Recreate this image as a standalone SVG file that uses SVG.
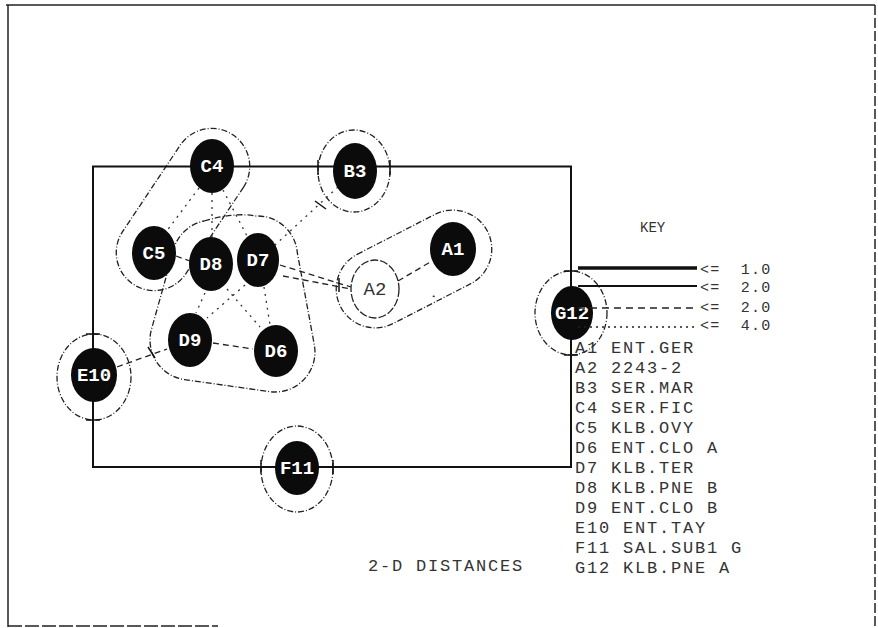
<svg xmlns="http://www.w3.org/2000/svg" width="878" height="628" viewBox="0 0 878 628">
<style>
.frame{fill:none;stroke:#222;stroke-width:1.5}
.ring{fill:none;stroke:#111;stroke-width:2}
.grp{fill:none;stroke:#222;stroke-width:1.3;stroke-dasharray:6 2 1 2}
.dark{fill:#0b0b0b}
.lbl{font-family:"Liberation Mono",monospace;font-weight:bold;font-size:19px;fill:#fff;text-anchor:middle}
.txt{font-family:"Liberation Mono",monospace;font-size:17px;letter-spacing:1.8px;fill:#333}
.key{font-family:"Liberation Mono",monospace;font-size:15px;letter-spacing:1.2px;fill:#333}
.dash{fill:none;stroke:#222;stroke-width:1.3;stroke-dasharray:6 4}
.dot{fill:none;stroke:#333;stroke-width:1.3;stroke-dasharray:2 5}
.tick{stroke:#111;stroke-width:1.5}
</style>
<rect width="878" height="628" fill="#fff"/>
<g id="frame">
<line class="frame" x1="6" y1="5" x2="875" y2="5"/>
<line class="frame" x1="8" y1="5" x2="8" y2="627"/>
<line class="frame" x1="875" y1="5" x2="875" y2="627" stroke-dasharray="10 3"/>
<line class="frame" x1="8" y1="626" x2="218" y2="626" stroke-dasharray="14 3"/>
</g>
<g id="groups">
<path class="grp" d="M243.6,187.1 L185.6,274.1 A38,38 0 0 1 122.4,231.9 L180.4,144.9 A38,38 0 0 1 243.6,187.1 Z"/>
<path class="grp" d="M357.2,254.3 L435.2,214.3 A39,39 0 0 1 470.8,283.7 L392.8,323.7 A39,39 0 0 1 357.2,254.3 Z"/>
<path class="grp" d="M204,221 Q235,212 256,216 A40,40 0 0 1 297.3,252.7 L314.3,344.7 A40,40 0 0 1 269.4,391.6 L184.4,379.6 A40,40 0 0 1 151.5,329.2 L172.5,254.2 A40,40 0 0 1 204,221 Z"/>
<ellipse class="grp" cx="354" cy="171" rx="36" ry="41"/>
<ellipse class="grp" cx="571" cy="313" rx="36" ry="42"/>
<ellipse class="grp" cx="94" cy="377" rx="37" ry="43"/>
<ellipse class="grp" cx="297" cy="469" rx="36" ry="43"/>
</g>
<g id="connectors">
<rect class="ring" x="93" y="166.5" width="478" height="300.5"/>
<line class="dot" x1="199" y1="188" x2="166" y2="232"/>
<line class="dot" x1="212" y1="193" x2="212" y2="237"/>
<line class="dot" x1="223" y1="190" x2="247" y2="236"/>
<line class="dash" x1="176" y1="256" x2="190" y2="261"/>
<line class="dot" x1="338" y1="187" x2="275" y2="245"/>
<line class="dot" x1="205" y1="293" x2="196" y2="313"/>
<line class="dot" x1="245" y1="285" x2="207" y2="318"/>
<line class="dot" x1="227" y1="289" x2="260" y2="327"/>
<line class="dot" x1="264" y1="287" x2="270" y2="325"/>
<line class="dash" x1="213" y1="343" x2="253" y2="349"/>
<line class="dash" x1="117" y1="367" x2="167" y2="349"/>
<line class="dash" x1="280" y1="265" x2="351" y2="287"/>
<line class="dash" x1="283" y1="276" x2="351" y2="289"/>
<line class="dash" x1="398" y1="281" x2="432" y2="261"/>
<line fill="none" stroke="#333" stroke-width="1.5" stroke-dasharray="0 34 2 1000" x1="399" y1="292" x2="549" y2="311"/>
<g class="tick">
<line x1="318" y1="160" x2="318" y2="175"/>
<line x1="390" y1="160" x2="390" y2="175"/>
<line x1="564" y1="271" x2="578" y2="271"/>
<line x1="564" y1="355" x2="578" y2="355"/>
<line x1="86" y1="334" x2="100" y2="334"/>
<line x1="86" y1="420" x2="100" y2="420"/>
<line x1="261" y1="460" x2="261" y2="474"/>
<line x1="333" y1="460" x2="333" y2="474"/>
<line x1="339" y1="278" x2="339" y2="292"/>
<line x1="148" y1="347" x2="155" y2="358"/>
<line x1="315" y1="201" x2="326" y2="209"/>
</g>
</g>
<g id="C4"><ellipse class="dark" cx="212" cy="166" rx="22" ry="27"/><text class="lbl" x="212" y="172">C4</text></g>
<g id="B3"><ellipse class="dark" cx="355" cy="171" rx="22" ry="28"/><text class="lbl" x="355" y="177">B3</text></g>
<g id="C5"><ellipse class="dark" cx="154" cy="253" rx="22" ry="27"/><text class="lbl" x="154" y="259">C5</text></g>
<g id="D8"><ellipse class="dark" cx="211" cy="264" rx="22" ry="27"/><text class="lbl" x="211" y="270">D8</text></g>
<g id="D7"><ellipse class="dark" cx="258" cy="260" rx="21" ry="27"/><text class="lbl" x="258" y="266">D7</text></g>
<g id="A1"><ellipse class="dark" cx="453" cy="249" rx="23" ry="27"/><text class="lbl" x="453" y="255">A1</text></g>
<g id="A2"><ellipse cx="375" cy="289" rx="24" ry="29" fill="#fff" stroke="#222" stroke-width="1.3" stroke-dasharray="8 2"/><text class="lbl" x="375" y="295" style="fill:#333;font-weight:normal">A2</text></g>
<g id="G12"><ellipse class="dark" cx="572" cy="313" rx="21" ry="27"/><text class="lbl" x="572" y="319">G12</text></g>
<g id="D9"><ellipse class="dark" cx="190" cy="340" rx="22" ry="27"/><text class="lbl" x="190" y="346">D9</text></g>
<g id="D6"><ellipse class="dark" cx="276" cy="351" rx="22" ry="26"/><text class="lbl" x="276" y="357">D6</text></g>
<g id="E10"><ellipse class="dark" cx="94" cy="375" rx="23" ry="27"/><text class="lbl" x="94" y="381">E10</text></g>
<g id="F11"><ellipse class="dark" cx="297" cy="468" rx="22" ry="27"/><text class="lbl" x="297" y="474">F11</text></g>
<g id="key">
<text x="640" y="232" style="font-family:'Liberation Mono',monospace;font-size:14px;fill:#333">KEY</text>
<line x1="578" y1="268" x2="697" y2="268" stroke="#111" stroke-width="3.5"/>
<line x1="578" y1="286" x2="697" y2="286" stroke="#111" stroke-width="2"/>
<line x1="578" y1="308" x2="697" y2="308" stroke="#222" stroke-width="1.3" stroke-dasharray="7 5"/>
<line x1="578" y1="327" x2="697" y2="327" stroke="#222" stroke-width="1.3" stroke-dasharray="2 4"/>
<text class="key" x="700" y="274" xml:space="preserve">&lt;=  1.0</text>
<text class="key" x="700" y="292" xml:space="preserve">&lt;=  2.0</text>
<text class="key" x="700" y="312" xml:space="preserve">&lt;=  2.0</text>
<text class="key" x="700" y="330" xml:space="preserve">&lt;=  4.0</text>
</g>
<g id="legend" xml:space="preserve">
<text class="txt" x="575" y="353">A1  ENT.GER</text>
<text class="txt" x="575" y="373">A2  2243-2</text>
<text class="txt" x="575" y="393">B3  SER.MAR</text>
<text class="txt" x="575" y="413">C4  SER.FIC</text>
<text class="txt" x="575" y="433">C5  KLB.OVY</text>
<text class="txt" x="575" y="453">D6  ENT.CLO A</text>
<text class="txt" x="575" y="473">D7  KLB.TER</text>
<text class="txt" x="575" y="493">D8  KLB.PNE B</text>
<text class="txt" x="575" y="513">D9  ENT.CLO B</text>
<text class="txt" x="575" y="533">E10 ENT.TAY</text>
<text class="txt" x="575" y="553">F11 SAL.SUB1 G</text>
<text class="txt" x="575" y="573">G12 KLB.PNE A</text>
</g>
<text id="title" class="txt" x="368" y="571">2-D DISTANCES</text>
</svg>
